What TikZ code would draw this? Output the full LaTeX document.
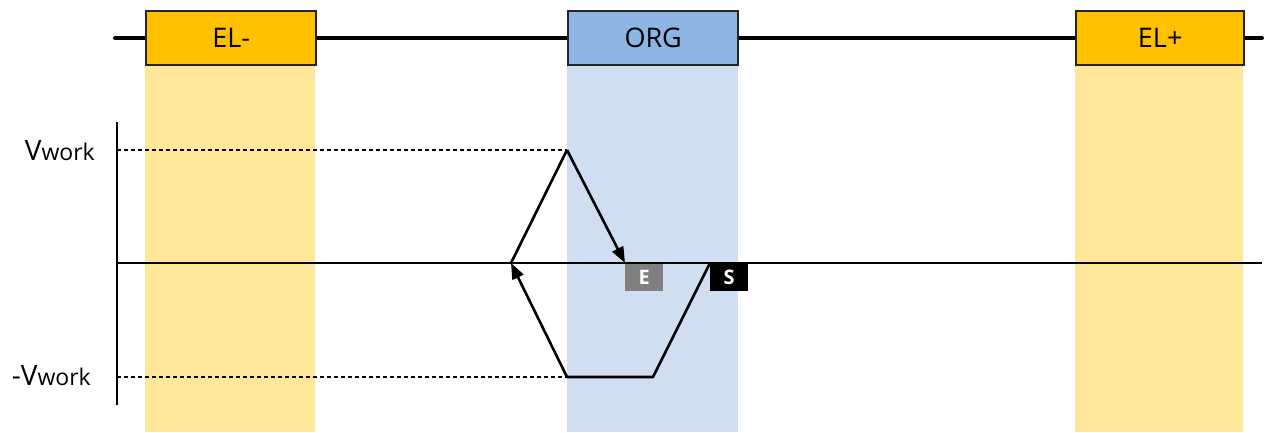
\documentclass[tikz,border=0pt]{standalone}
\usepackage{fontspec}
\setmainfont{Open Sans}
\usetikzlibrary{arrows.meta}
\definecolor{elfill}{HTML}{FFC000}
\definecolor{elcol}{HTML}{FFE699}
\definecolor{orgfill}{HTML}{8EB4E3}
\definecolor{orgcol}{HTML}{D0DEF1}
\definecolor{egray}{HTML}{808080}
\tikzset{
  topbox/.style={draw=black!85, line width=2.4pt, minimum width=170pt, minimum height=54pt, inner sep=0pt, font=\fontsize{27}{27}\selectfont, anchor=north west},
  tagbox/.style={minimum width=38pt, minimum height=27pt, inner sep=0pt, text=white, font=\bfseries\fontsize{20}{20}\selectfont, anchor=north west},
  vlabel/.style={anchor=base east, inner sep=0pt},
  pathline/.style={line width=2.6pt, line join=round},
  arr/.style={pathline, -{Triangle[length=16pt,width=12pt]}},
  guide/.style={line width=1.6pt, dash pattern=on 4pt off 3pt}
}
\begin{document}
\begin{tikzpicture}[x=1pt, y=-1pt]
\useasboundingbox (0,0) rectangle (1277,432);
% columns
\fill[elcol] (145,64) rectangle (315,432);
\fill[orgcol] (567,64) rectangle (738,432);
\fill[elcol] (1075,64) rectangle (1243,432);
% top bar
\coordinate (barL) at (115,38);
\coordinate (barR) at (1262,38);
\draw[line width=4pt, line cap=round] (barL) -- (barR);
\node[topbox, fill=elfill] (elm) at (145,10) {EL-};
\node[topbox, fill=orgfill] (org) at (567,10) {ORG};
\node[topbox, fill=elfill, minimum width=168pt] (elp) at (1075,10) {EL+};
% axes
\coordinate (vtop) at (117,122);
\coordinate (vbot) at (117,405);
\coordinate (h0) at (117,263);
\coordinate (h1) at (1262,263);
\draw[line width=2.8pt] (vtop) -- (vbot);
\draw[line width=1.8pt] (h0) -- (h1);
% levels
\coordinate (vw0) at (117,150);
\coordinate (nvw0) at (117,377);
\coordinate (P) at (567,150);
\coordinate (L) at (511,263);
\coordinate (Q) at (567,377);
\coordinate (R) at (653,377);
\coordinate (Sx) at (710,263);
\coordinate (Ex) at (625,263);
\draw[guide] (vw0) -- (P);
\draw[guide] (nvw0) -- (Q);
\node[vlabel] (vw) at (95,160) {\fontsize{28}{28}\selectfont V\fontsize{23}{23}\selectfont work};
\node[vlabel] (nvw) at (91,385) {\fontsize{28}{28}\selectfont -V\fontsize{23}{23}\selectfont work};
% waveform
\draw[pathline] (L) -- (P);
\draw[arr] (P) -- (Ex);
\draw[arr] (Q) -- (L);
\draw[pathline] (Q) -- (R) -- (Sx);
% tags
\node[tagbox, fill=egray] (E) at (625,264) {E};
\node[tagbox, fill=black] (S) at (710,264) {S};
\end{tikzpicture}
\end{document}
